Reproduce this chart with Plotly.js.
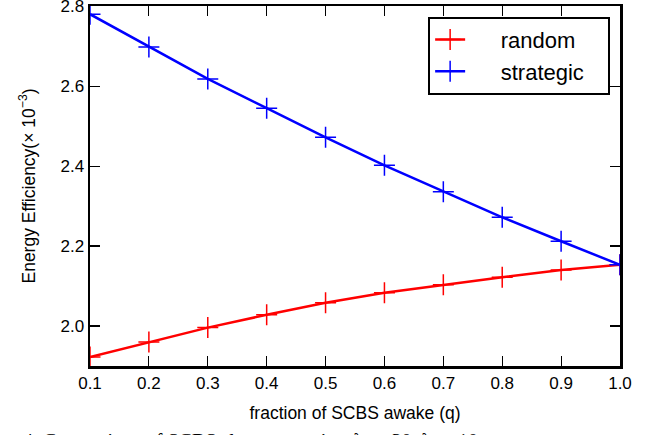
<!DOCTYPE html>
<html>
<head>
<meta charset="utf-8">
<script src="https://cdn.plot.ly/plotly-3.0.1.min.js"></script>
<style>html,body{margin:0;padding:0;background:#fff;}#chart{width:655px;height:435px;}</style>
</head>
<body>
<div id="chart"></div>
<script>
const q = [0.1, 0.2, 0.3, 0.4, 0.5, 0.6, 0.7, 0.8, 0.9, 1.0];
const randomEE = [1.9225, 1.960, 1.996, 2.028, 2.058, 2.083, 2.103, 2.122, 2.140, 2.153];
const strategicEE = [2.780, 2.698, 2.618, 2.545, 2.472, 2.402, 2.336, 2.272, 2.212, 2.153];
const xTicks = [0.1, 0.2, 0.3, 0.4, 0.5, 0.6, 0.7, 0.8, 0.9, 1.0];
const xTickText = ['0.1','0.2','0.3','0.4','0.5','0.6','0.7','0.8','0.9','1.0'];
const yTicks = [2.0, 2.2, 2.4, 2.6, 2.8];
const yTickText = ['2.0','2.2','2.4','2.6','2.8'];

const font = 'Liberation Sans, Arial, sans-serif';
const nb = '\u00a0';
function series(name, y, color) {
  return {
    x: q, y: y, name: nb.repeat(5) + name + nb.repeat(3), type: 'scatter', mode: 'lines+markers',
    line: {color: color, width: 2.5},
    marker: {symbol: 'cross-thin-open', size: 15, line: {color: color, width: 1.5}, color: color}
  };
}
const data = [series('random', randomEE, '#ff0000'), series('strategic', strategicEE, '#0000ff')];

const axisCommon = {
  showgrid: false, zeroline: false, showline: true, linecolor: '#000', linewidth: 2.5,
  mirror: 'ticks', ticks: 'inside', ticklen: 10, tickwidth: 1.2, tickcolor: '#000',
  ticklabeloverflow: 'allow',
  tickfont: {family: font, size: 17, color: '#000'}
};
const layout = {
  width: 655, height: 435,
  margin: {l: 90, r: 35, t: 6, b: 69},
  paper_bgcolor: '#fff', plot_bgcolor: '#fff',
  showlegend: true,
  legend: {x: 0.638, y: 0.97, xanchor: 'left', yanchor: 'top',
    bordercolor: '#000', borderwidth: 2, bgcolor: '#fff',
    font: {family: font, size: 22, color: '#000'}, tracegroupgap: 0},
  xaxis: Object.assign({}, axisCommon, {
    range: [0.1, 1.0], tickvals: xTicks, ticktext: xTickText,
    title: {text: 'fraction of SCBS awake (q)', font: {family: font, size: 17.5, color: '#000'}, standoff: 15}
  }),
  yaxis: Object.assign({}, axisCommon, {
    range: [1.9, 2.8005], tickvals: yTicks, ticktext: yTickText,
    title: {text: 'Energy Efficiency(× 10<sup>−3</sup>)', font: {family: font, size: 17.5, color: '#000'}, standoff: 21}
  }),
  annotations: [{
    xref: 'paper', yref: 'paper', x: -0.13, y: -0.172, xanchor: 'left', yanchor: 'top', showarrow: false,
    text: '4. Comparison of SCBS sleep strategies: λ<sub>u</sub> = 30, λ<sub>s</sub> = 10',
    font: {family: 'Liberation Serif, Times New Roman, serif', size: 20, color: '#000'}
  }]
};
Plotly.newPlot('chart', data, layout, {displayModeBar: false, staticPlot: true});
</script>
</body>
</html>
